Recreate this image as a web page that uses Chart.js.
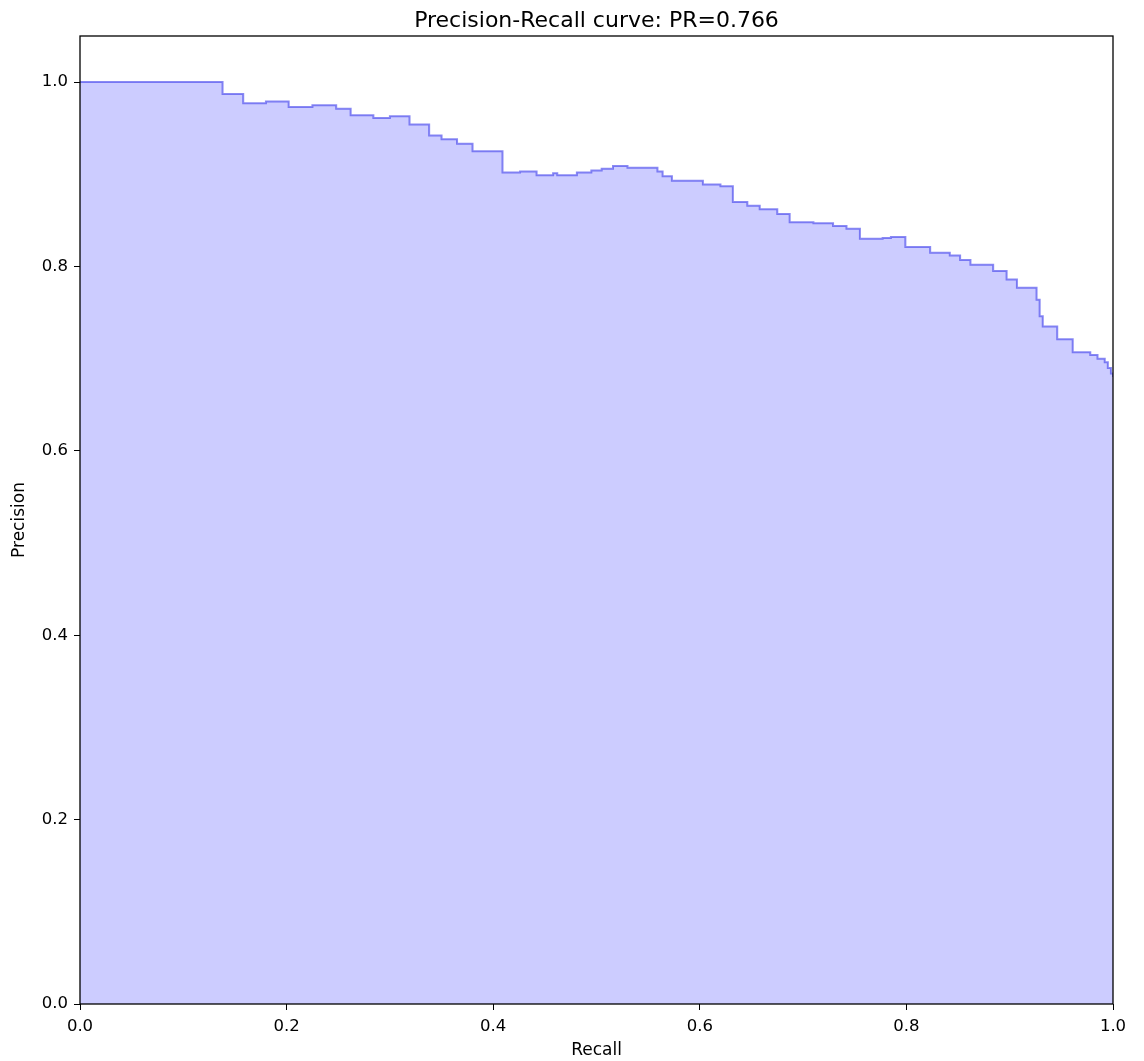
<!DOCTYPE html>
<html>
<head>
<meta charset="utf-8">
<script src="https://cdn.jsdelivr.net/npm/chart.js@4.4.0/dist/chart.umd.min.js"></script>
<style>
  html, body { margin: 0; padding: 0; background: #fff; }
  #wrap { width: 1144px; height: 1061px; position: relative; }
</style>
</head>
<body>
<div id="wrap"><canvas id="prChart"></canvas></div>
<script>
// recall where each precision level starts (step 'post')
var recall = [0, 0.138, 0.158, 0.180, 0.202, 0.225, 0.248, 0.262, 0.284, 0.300,
  0.319, 0.338, 0.350, 0.365, 0.380, 0.409, 0.426, 0.442, 0.458, 0.462,
  0.481, 0.495, 0.505, 0.516, 0.530, 0.559, 0.564, 0.573, 0.603, 0.620,
  0.632, 0.646, 0.658, 0.675, 0.687, 0.710, 0.729, 0.742, 0.755, 0.777,
  0.785, 0.799, 0.823, 0.842, 0.852, 0.862, 0.884, 0.897, 0.907, 0.926,
  0.929, 0.932, 0.946, 0.961, 0.978, 0.985, 0.992, 0.995, 0.998, 1.0];
var precision = [1.0, 0.987, 0.977, 0.979, 0.973, 0.975, 0.971, 0.964, 0.961, 0.963,
  0.954, 0.942, 0.938, 0.933, 0.925, 0.902, 0.903, 0.899, 0.901, 0.899,
  0.902, 0.904, 0.906, 0.909, 0.907, 0.903, 0.898, 0.893, 0.889, 0.887,
  0.870, 0.866, 0.862, 0.857, 0.848, 0.847, 0.844, 0.841, 0.830, 0.831,
  0.832, 0.821, 0.815, 0.812, 0.807, 0.802, 0.795, 0.786, 0.777, 0.764,
  0.746, 0.735, 0.721, 0.707, 0.704, 0.700, 0.696, 0.690, 0.684, 0.680];
var titleText = 'Precision-Recall curve: PR=0.766';

var points = recall.map(function(r, i) { return {x: r, y: precision[i]}; });

// black frame round the plot area, and the title centred over it
var frame = {
  id: 'frame',
  afterDraw: function(chart) {
    var a = chart.chartArea, ctx = chart.ctx;
    ctx.save();
    ctx.strokeStyle = '#000';
    ctx.lineWidth = 1.3;
    ctx.strokeRect(a.left, a.top, a.right - a.left, a.bottom - a.top);
    ctx.fillStyle = '#000';
    ctx.font = '22px "DejaVu Sans"';
    ctx.textAlign = 'center';
    ctx.textBaseline = 'alphabetic';
    ctx.fillText(titleText, (a.left + a.right) / 2, 27);
    ctx.restore();
  }
};

var fmt = function(v) { return Number(v).toFixed(1); };
var tickFont = { family: 'DejaVu Sans', size: 16.5 };

var ctx = document.getElementById('prChart').getContext('2d');
var chart = new Chart(ctx, {
  type: 'line',
  data: {
    datasets: [{
      data: points,
      stepped: 'before',
      borderColor: 'rgba(60,60,235,0.6)',
      borderWidth: 2,
      backgroundColor: '#ccccff',
      fill: 'origin',
      pointRadius: 0
    }]
  },
  options: {
    responsive: true,
    maintainAspectRatio: false,
    animation: false,
    layout: { padding: { left: 0, right: 31, top: 36, bottom: 0 } },
    plugins: {
      legend: { display: false },
      tooltip: { enabled: false },
      title: { display: false }
    },
    scales: {
      x: {
        type: 'linear',
        min: 0, max: 1,
        ticks: { stepSize: 0.2, callback: fmt, color: '#000', padding: 7,
          font: tickFont, maxRotation: 0 },
        grid: { display: true, drawOnChartArea: false, drawTicks: true, tickLength: 6, color: '#000' },
        border: { display: false },
        title: { display: true, text: 'Recall', color: '#000', padding: { top: 4, bottom: 0 },
          font: { family: 'DejaVu Sans', size: 17 } },
        afterFit: function(s) { s.height = 57; }
      },
      y: {
        type: 'linear',
        min: 0, max: 1.05,
        ticks: { stepSize: 0.2, callback: fmt, color: '#000', padding: 6, includeBounds: false,
          font: tickFont },
        grid: { display: true, drawOnChartArea: false, drawTicks: true, tickLength: 6, color: '#000' },
        border: { display: false },
        title: { display: true, text: 'Precision', color: '#000', padding: { top: 9, bottom: 0 },
          font: { family: 'DejaVu Sans', size: 17 } },
        afterFit: function(s) { s.width = 80; }
      }
    }
  },
  plugins: [frame]
});
</script>
</body>
</html>
